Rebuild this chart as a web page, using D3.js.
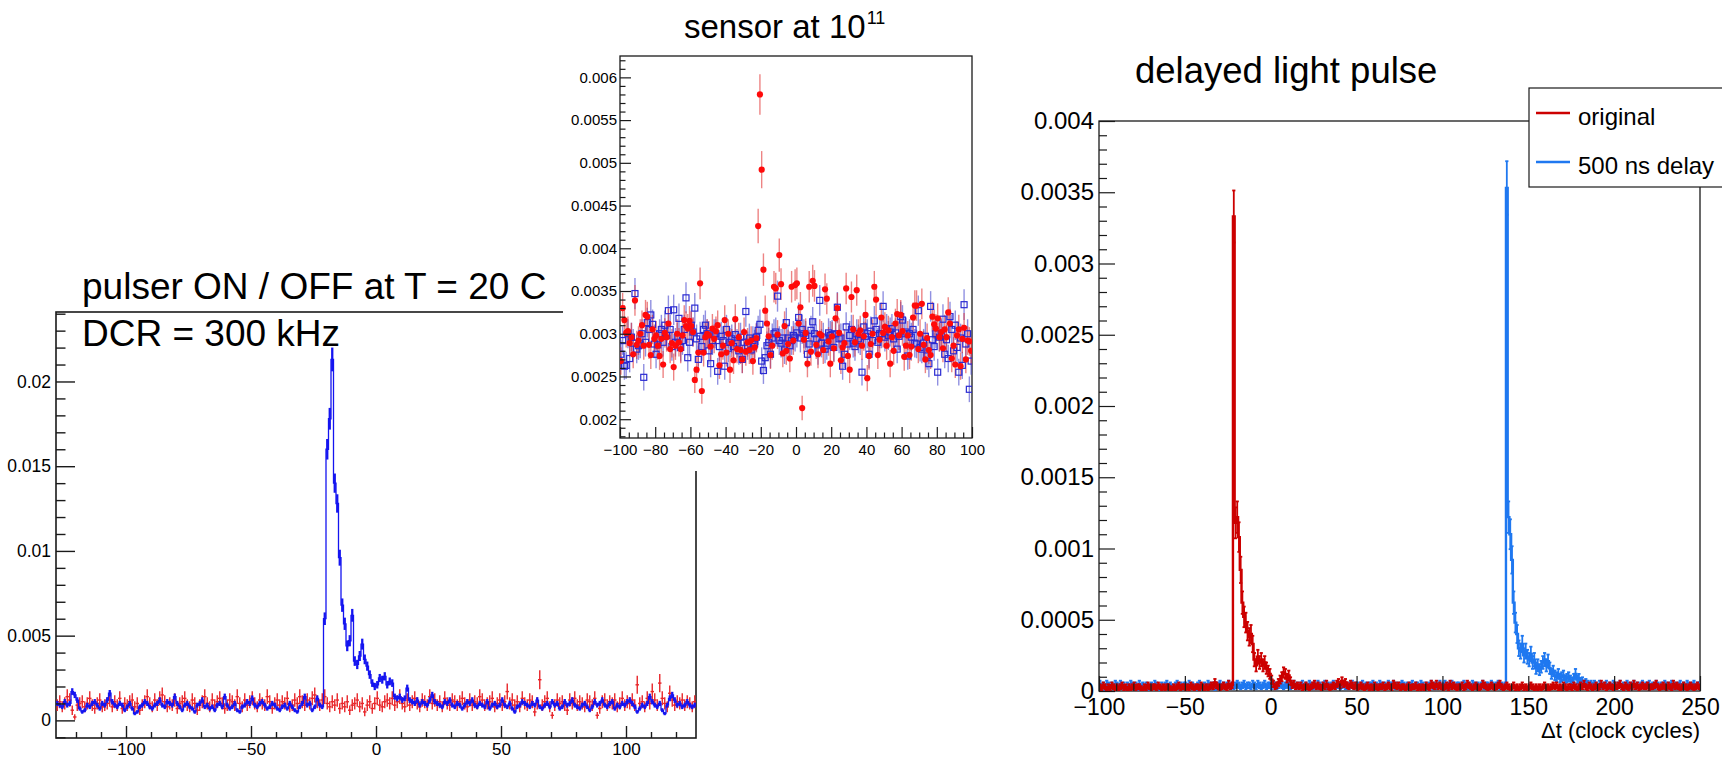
<!DOCTYPE html>
<html>
<head>
<meta charset="utf-8">
<script src="https://cdn.jsdelivr.net/npm/d3@7"></script>
<style>
  body { margin: 0; background: #fff; }
  svg { display: block; }
</style>
</head>
<body>
<svg id="fig" width="1722" height="759"></svg>
<script>
// ---------------- data ----------------
// pulser ON / OFF, one bin per clock cycle starting at -128, values in units of 1e-4
const pulserStart = -128;
const pulserUnit = 1e-4;
const pulserOn = [
  10, 9, 8, 11, 9, 10, 17, 15, 12, 7,
  5, 6, 9, 8, 10, 11, 9, 7, 10, 9,
  12, 16, 11, 9, 8, 10, 9, 6, 8, 10,
  7, 4, 5, 8, 9, 11, 10, 8, 7, 9,
  10, 12, 9, 8, 11, 10, 9, 14, 10, 8,
  6, 9, 10, 8, 7, 5, 9, 10, 12, 8,
  9, 7, 8, 6, 9, 10, 8, 14, 9, 7,
  8, 10, 6, 5, 8, 9, 11, 10, 13, 9,
  8, 10, 11, 9, 7, 8, 10, 9, 7, 6,
  8, 9, 7, 10, 8, 6, 5, 8, 10, 14,
  9, 10, 6, 8, 13, 9, 8,
  60, 160, 178, 213, 140, 128, 96, 68, 57, 44,
  47, 62, 35, 33, 38, 45, 36, 32, 27, 22,
  20, 21, 25, 24, 26, 21, 23, 22, 14, 13, 14, 12,
  13, 19, 12, 11, 10, 12, 9, 11, 10, 9,
  12, 15, 11, 10, 9, 8, 11, 10, 12, 9,
  8, 10, 9, 7, 9, 11, 10, 12, 9, 8,
  10, 9, 8, 11, 7, 9, 10, 8, 9, 12,
  9, 8, 10, 7, 5, 8, 9, 11, 10, 9,
  8, 10, 9, 12, 8, 7, 9, 10, 8, 11,
  9, 10, 7, 8, 11, 9, 10, 12, 9, 8,
  7, 9, 10, 8, 6, 8, 11, 9, 10, 12,
  9, 8, 10, 11, 7, 9, 8, 10, 9, 11,
  12, 10, 8, 5, 7, 9, 8, 10, 14, 11,
  9, 8, 10, 6, 4, 9, 13, 15, 12, 9,
  10, 8, 9, 11, 9, 8, 9
];
const pulserOff = [
  9, 11, 8, 10, 14, 12, 6, 2, 9, 10,
  11, 8, 10, 13, 9, 7, 10, 12, 8, 9,
  10, 12, 8, 11, 9, 13, 7, 10, 9, 11,
  12, 8, 10, 6, 9, 11, 14, 10, 8, 12,
  9, 13, 15, 11, 8, 10, 9, 12, 7, 10,
  11, 13, 9, 8, 12, 10, 6, 9, 11, 14,
  10, 8, 12, 9, 11, 13, 10, 7, 9, 12,
  11, 9, 14, 10, 8, 12, 9, 11, 13, 10,
  8, 12, 10, 9, 14, 11, 7, 10, 12, 9,
  11, 10, 13, 8, 9, 12, 10, 14, 11, 9,
  12, 10, 13, 15, 11, 9, 12, 14, 10, 8,
  11, 9, 12, 7, 10, 8, 11, 6, 9, 10,
  12, 8, 10, 5, 9, 11, 7, 10, 13, 9,
  8, 11, 12, 10, 13, 9, 11, 14, 10, 8,
  12, 9, 11, 13, 10, 8, 12, 11, 9, 14,
  10, 12, 9, 11, 8, 13, 10, 9, 12, 11,
  9, 11, 13, 10, 8, 12, 9, 11, 10, 14,
  12, 9, 10, 11, 13, 8, 10, 12, 9, 11,
  17, 10, 12, 9, 11, 8, 13, 10, 9, 12,
  11, 5, 10, 24, 9, 11, 13, 8, 3, 9,
  12, 10, 11, 9, 6, 12, 10, 13, 9, 11,
  10, 8, 12, 11, 9, 13, 3, 7, 11, 12,
  9, 11, 10, 12, 8, 10, 13, 9, 11, 10,
  12, 9, 21, 10, 11, 8, 13, 10, 17, 12,
  9, 22, 13, 10, 8, 16, 12, 9, 11, 10,
  12, 9, 11, 10, 8, 11
];

// sensor at 10^11 (inset), bins of 1 from -100 to 100, values in units of 1e-5
const sensorStart = -100;
const sensorUnit = 1e-5;
const sensorRed = [
  268, 330, 316, 301, 303, 289, 296, 276, 339, 287,
  292, 300, 310, 286, 322, 320, 287, 275, 305, 294,
  298, 286, 274, 294, 264, 301, 296, 312, 282, 289,
  261, 286, 300, 290, 282, 298, 316, 309, 306, 315,
  309, 302, 246, 258, 278, 359, 233, 278, 296, 300,
  298, 285, 306, 294, 303, 310, 263, 276, 286, 316,
  278, 300, 258, 289, 269, 317, 282, 296, 281, 270,
  302, 279, 290, 281, 292, 268, 284, 295, 426, 580,
  492, 375, 327, 312, 297, 275, 286, 355, 353, 299,
  392, 358, 277, 309, 280, 288, 271, 355, 292, 357,
  359, 312, 331, 213, 293, 301, 265, 355, 279, 362,
  356, 287, 276, 300, 298, 281, 352, 341, 291, 265,
  297, 283, 318, 330, 301, 269, 284, 289, 353, 274,
  258, 343, 305, 290, 351, 300, 304, 286, 297, 322,
  248, 274, 288, 300, 355, 340, 275, 293, 319, 301,
  308, 286, 304, 265, 296, 280, 312, 323, 298, 322,
  303, 273, 286, 298, 275, 285, 319, 333, 333, 282,
  300, 335, 287, 270, 295, 281, 275, 320, 311, 306,
  318, 296, 302, 283, 305, 296, 325, 312, 271, 286,
  264, 298, 305, 262, 294, 307, 270, 292, 291, 280
];
const sensorBlue = [
  276, 292, 262, 263, 300, 271, 296, 289, 347, 282,
  286, 288, 300, 249, 290, 313, 305, 322, 311, 288,
  276, 287, 300, 305, 290, 310, 298, 327, 305, 285,
  328, 290, 296, 318, 284, 292, 305, 342, 272, 290,
  310, 302, 330, 294, 270, 297, 285, 305, 310, 300,
  280, 265, 292, 300, 300, 256, 285, 297, 292, 262,
  305, 283, 290, 294, 285, 299, 289, 280, 296, 270,
  290, 326, 286, 295, 281, 292, 288, 296, 304, 311,
  268, 257, 272, 286, 290, 276, 295, 300, 302, 344,
  292, 289, 295, 281, 313, 295, 286, 292, 298, 296,
  301, 319, 295, 305, 300, 298, 276, 288, 304, 314,
  300, 294, 280, 339, 289, 296, 282, 286, 301, 298,
  299, 284, 300, 331, 294, 295, 262, 276, 308, 288,
  298, 305, 289, 285, 300, 294, 292, 255, 308, 297,
  300, 276, 303, 292, 315, 305, 290, 300, 300, 332,
  296, 306, 298, 302, 306, 294, 301, 282, 297, 320,
  316, 300, 302, 274, 300, 296, 305, 289, 288, 327,
  284, 282, 289, 297, 274, 265, 332, 293, 285, 300,
  255, 296, 300, 317, 276, 293, 271, 320, 305, 280,
  310, 284, 255, 295, 263, 334, 288, 300, 235, 268
];

// delayed light pulse (right), bins of 1 clock cycle from -100 to 250, units of 1e-5
const delayStart = -100;
const delayUnit = 1e-5;
const delayOriginal = [
  3, 2, 4, 3, 1, 3, 2, 4, 3, 2,
  3, 2, 3, 4, 2, 3, 1, 3, 2, 3,
  4, 2, 3, 3, 2, 1, 3, 2, 4, 3,
  2, 3, 3, 2, 4, 3, 2, 3, 2, 3,
  3, 2, 1, 3, 2, 3, 4, 2, 3, 3,
  2, 3, 2, 4, 3, 2, 3, 3, 2, 4,
  3, 2, 3, 2, 3, 4, 3, 6, 4, 3,
  2, 3, 4, 3, 2, 5, 3, 4,
  333, 118, 122, 108, 85, 62, 52, 48, 42, 38,
  40, 33, 22, 18, 24, 20, 22, 18, 20, 16,
  14, 12, 8, 5, 3, 4, 6, 8, 10, 13,
  12, 9, 11, 7, 4, 5, 3, 4, 3, 4,
  2, 3, 4, 3, 2, 3, 4, 5, 3, 4,
  3, 2, 4, 3, 5, 3, 2, 3, 4, 3,
  5, 6, 4, 7, 5, 6, 4, 3, 5, 4,
  3, 4, 2, 3, 4, 3, 2, 3, 4, 2,
  3, 2, 4, 3, 2, 3, 3, 4, 2, 3,
  4, 3, 2, 5, 4, 3, 4, 2, 3, 3,
  2, 3, 4, 2, 3, 3, 4, 2, 3, 2,
  3, 2, 4, 3, 2, 5, 4, 3, 5, 3,
  4, 3, 2, 3, 4, 2, 5, 3, 4, 3,
  2, 3, 3, 4, 2, 3, 5, 4, 3, 2,
  3, 4, 3, 2, 3, 5, 4, 3, 2, 3,
  4, 3, 2, 3, 4, 5, 3, 2, 3, 4,
  3, 2, 3, 4, 2, 3, 2, 3, 4, 2,
  3, 2, 3, 4, 3, 2, 3, 2, 3, 2,
  3, 4, 2, 3, 2, 3, 4, 3, 4, 2,
  3, 2, 4, 3, 2, 3, 3, 2, 4, 3,
  2, 3, 4, 3, 5, 3, 2, 4, 3, 2,
  3, 4, 2, 3, 5, 3, 4, 2, 3, 4,
  3, 2, 4, 3, 4, 5, 3, 2, 4, 3,
  2, 4, 3, 5, 3, 4, 2, 3, 4, 3,
  3, 4, 2, 3, 3, 4, 5, 3, 2, 3,
  4, 3, 2, 4, 3, 2, 5, 3, 4, 3,
  2, 3, 4, 3, 2, 3, 4, 3, 2, 3, 4, 3
];
const delayShifted = [
  5, 3, 4, 2, 5, 4, 3, 4, 3, 5,
  4, 3, 5, 3, 4, 2, 4, 3, 5, 4,
  3, 4, 2, 5, 3, 4, 3, 4, 2, 3,
  4, 3, 5, 4, 3, 2, 4, 3, 4, 5,
  3, 4, 3, 2, 4, 5, 3, 4, 3, 4,
  4, 3, 5, 3, 4, 3, 2, 4, 5, 3,
  3, 4, 3, 5, 4, 3, 4, 2, 3, 4,
  5, 3, 4, 3, 4, 5, 3, 4, 3, 4,
  5, 4, 3, 4, 5, 3, 4, 4, 3, 5,
  4, 3, 5, 4, 3, 4, 5, 3, 4, 4,
  3, 5, 4, 3, 4, 5, 4, 3, 4, 5,
  4, 3, 4, 5, 3, 4, 3, 4, 5, 3,
  4, 3, 5, 4, 3, 4, 3, 5, 4, 3,
  4, 5, 3, 4, 3, 4, 5, 3, 4, 4,
  3, 4, 5, 3, 4, 3, 4, 5, 3, 4,
  4, 3, 4, 5, 3, 4, 3, 4, 4, 5,
  3, 4, 3, 5, 4, 3, 4, 3, 5, 4,
  4, 5, 3, 4, 3, 4, 5, 4, 3, 4,
  3, 4, 5, 3, 4, 4, 3, 5, 4, 3,
  4, 3, 4, 5, 3, 4, 3, 4, 5, 3,
  4, 5, 3, 4, 3, 5, 4, 3, 4, 4,
  3, 4, 5, 4, 3, 4, 3, 5, 4, 3,
  4, 3, 4, 5, 3, 4, 4, 3, 5, 4,
  3, 4, 5, 3, 4, 3, 4,
  353, 122, 110, 92, 62, 48, 40, 30, 28, 33,
  25, 28, 24, 22, 26, 20, 22, 16, 18, 15,
  17, 20, 22, 18, 21, 16, 12, 14, 11, 10,
  12, 9, 10, 11, 8, 9, 10, 8, 7, 9,
  12, 8, 9, 6, 7, 5, 6, 5, 4, 5,
  4, 5, 4, 3, 5, 4, 3, 4, 5, 3,
  4, 3, 5, 4, 3, 4, 5, 3, 4, 3,
  5, 4, 3, 4, 5, 3, 4, 3, 4, 5,
  3, 4, 4, 5, 3, 4, 3, 5, 4, 3,
  4, 3, 5, 4, 3, 4, 5, 3, 4, 3,
  4, 5, 3, 4, 3, 5, 4, 3, 4, 5, 3, 4, 4
];

// axis ticks and labels
const leftYTicks = [0, 0.005, 0.01, 0.015, 0.02];
const leftXTicks = [-100, -50, 0, 50, 100];
const insetYTicks = [0.002, 0.0025, 0.003, 0.0035, 0.004, 0.0045, 0.005, 0.0055, 0.006];
const insetXTicks = [-100, -80, -60, -40, -20, 0, 20, 40, 60, 80, 100];
const rightYTicks = [0, 0.0005, 0.001, 0.0015, 0.002, 0.0025, 0.003, 0.0035, 0.004];
const rightXTicks = [-100, -50, 0, 50, 100, 150, 200, 250];
const legendLabels = ["original", "500 ns delay"];

// ---------------- drawing ----------------
const FONT = '"Liberation Sans", Arial, Helvetica, sans-serif';
const INK = "#1a1a1a";
const svg = d3.select("#fig").attr("font-family", FONT);
const defs = svg.append("defs");

function clipFor(id, x, y) {
  defs.append("clipPath").attr("id", id).append("rect")
    .attr("x", x.range()[0]).attr("y", y.range()[1])
    .attr("width", x.range()[1] - x.range()[0])
    .attr("height", y.range()[0] - y.range()[1]);
  return `url(#${id})`;
}

function frame(g, x, y, lw) {
  g.append("rect")
    .attr("x", x.range()[0]).attr("y", y.range()[1])
    .attr("width", x.range()[1] - x.range()[0])
    .attr("height", y.range()[0] - y.range()[1])
    .attr("fill", "none").attr("stroke", INK).attr("stroke-width", lw);
}

// ROOT-style axes: ticks inside the frame, minor ticks half length
function axes(g, x, y, o) {
  const fmt = d3.format("~g");
  const left = x.range()[0], bottom = y.range()[0];
  const notMajor = (majors) => (v) => !majors.some(m => Math.abs(m - v) < 1e-9);

  g.append("g").attr("transform", `translate(${left},0)`)
    .attr("color", INK).attr("stroke-width", o.lw)
    .call(d3.axisLeft(y).tickValues(o.yMinor.filter(notMajor(o.yMajor)))
      .tickSize(-o.yTick / 2).tickFormat(""))
    .call(s => s.select(".domain").remove());
  g.append("g").attr("transform", `translate(${left},0)`)
    .attr("color", INK).attr("stroke-width", o.lw)
    .call(d3.axisLeft(y).tickValues(o.yMajor).tickSize(-o.yTick)
      .tickPadding(o.yPad).tickFormat(fmt))
    .call(s => s.select(".domain").remove())
    .attr("font-size", o.yfs || o.fs).attr("font-family", FONT)
    .call(s => s.selectAll("text").attr("fill", "#000"));

  g.append("g").attr("transform", `translate(0,${bottom})`)
    .attr("color", INK).attr("stroke-width", o.lw)
    .call(d3.axisBottom(x).tickValues(o.xMinor.filter(notMajor(o.xMajor)))
      .tickSize(-o.xTick / 2).tickFormat(""))
    .call(s => s.select(".domain").remove());
  g.append("g").attr("transform", `translate(0,${bottom})`)
    .attr("color", INK).attr("stroke-width", o.lw)
    .call(d3.axisBottom(x).tickValues(o.xMajor).tickSize(-o.xTick)
      .tickPadding(o.xPad).tickFormat(fmt))
    .call(s => s.select(".domain").remove())
    .attr("font-size", o.fs).attr("font-family", FONT)
    .call(s => s.selectAll("text").attr("fill", "#000"));
}

function bins(start, vals, unit) {
  return vals.map((v, i) => ({ x0: start + i, x1: start + i + 1, v: v * unit }));
}

function stepLine(x, y, data) {
  const pts = data.map(d => [d.x0, d.v]);
  pts.push([data[data.length - 1].x1, data[data.length - 1].v]);
  return d3.line().x(d => x(d[0])).y(d => y(d[1])).curve(d3.curveStepAfter)(pts);
}

const mid = d => (d.x0 + d.x1) / 2;

// ===== left panel: pulser ON / OFF =====
const xL = d3.scaleLinear().domain([-128, 128]).range([56, 696]);
const yL = d3.scaleLinear().domain([-0.00104, 0.0241]).range([738, 312]);
const gL = svg.append("g");
frame(gL, xL, yL, 1.6);

const onBins = bins(pulserStart, pulserOn, pulserUnit);
const offBins = bins(pulserStart, pulserOff, pulserUnit);
const dL = gL.append("g").attr("clip-path", clipFor("clipL", xL, yL));

// pulser OFF: red crosses
const offErr = d => 0.0115 * Math.sqrt(d.v);
dL.append("g").attr("stroke", "#e8262a").attr("stroke-width", 1.4)
  .selectAll("g").data(offBins).join("g")
  .call(s => s.append("line")
    .attr("x1", d => xL(mid(d))).attr("x2", d => xL(mid(d)))
    .attr("y1", d => yL(d.v - offErr(d))).attr("y2", d => yL(d.v + offErr(d))))
  .call(s => s.append("line")
    .attr("x1", d => xL(d.x0) - 0.5).attr("x2", d => xL(d.x1) + 0.5)
    .attr("y1", d => yL(d.v)).attr("y2", d => yL(d.v)));

// pulser ON: blue histogram with error bars
const onErr = d => 0.0048 * Math.sqrt(d.v);
dL.append("path").attr("d", stepLine(xL, yL, onBins))
  .attr("fill", "none").attr("stroke", "#1414f0").attr("stroke-width", 1.3);
dL.append("g").attr("stroke", "#1414f0").attr("stroke-width", 2.3)
  .selectAll("line").data(onBins).join("line")
  .attr("x1", d => xL(mid(d))).attr("x2", d => xL(mid(d)))
  .attr("y1", d => yL(d.v - onErr(d))).attr("y2", d => yL(d.v + onErr(d)));

axes(gL, xL, yL, {
  yMajor: leftYTicks, yMinor: d3.range(-0.001, 0.02401, 0.001),
  xMajor: leftXTicks, xMinor: d3.range(-120, 121, 10),
  yTick: 19, xTick: 12, yPad: 5, xPad: 5, fs: 17, yfs: 17.5, lw: 1.4
});

gL.append("text").attr("x", 82).attr("y", 299).attr("font-size", 37)
  .text("pulser ON / OFF at T = 20 C");
gL.append("text").attr("x", 82).attr("y", 346).attr("font-size", 37)
  .text("DCR = 300 kHz");

// ===== inset: sensor at 10^11 (pasted over the left panel) =====
svg.append("rect").attr("x", 563).attr("y", 0).attr("width", 447).attr("height", 471)
  .attr("fill", "#fff");

const xI = d3.scaleLinear().domain([-100, 100]).range([620, 972]);
const yI = d3.scaleLinear().domain([0.00178, 0.00625]).range([438, 56]);
const gI = svg.append("g");
frame(gI, xI, yI, 1.3);

const redI = bins(sensorStart, sensorRed, sensorUnit);
const blueI = bins(sensorStart, sensorBlue, sensorUnit);
const errI = d => 0.0031 * Math.sqrt(d.v);
const dI = gI.append("g").attr("clip-path", clipFor("clipI", xI, yI));

dI.append("g").attr("stroke", "rgba(70,70,205,0.6)").attr("stroke-width", 1.4)
  .selectAll("line").data(blueI).join("line")
  .attr("x1", d => xI(mid(d))).attr("x2", d => xI(mid(d)))
  .attr("y1", d => yI(d.v - errI(d))).attr("y2", d => yI(d.v + errI(d)));
dI.append("g").attr("stroke", "rgba(225,50,50,0.6)").attr("stroke-width", 1.4)
  .selectAll("line").data(redI).join("line")
  .attr("x1", d => xI(mid(d))).attr("x2", d => xI(mid(d)))
  .attr("y1", d => yI(d.v - errI(d))).attr("y2", d => yI(d.v + errI(d)));
dI.append("g").attr("fill", "none").attr("stroke", "#2a2ad2").attr("stroke-width", 1.2)
  .selectAll("rect").data(blueI).join("rect")
  .attr("x", d => xI(mid(d)) - 3).attr("y", d => yI(d.v) - 3)
  .attr("width", 6).attr("height", 6);
dI.append("g").attr("fill", "#ff0a0a")
  .selectAll("circle").data(redI).join("circle")
  .attr("cx", d => xI(mid(d))).attr("cy", d => yI(d.v)).attr("r", 3.1);

axes(gI, xI, yI, {
  yMajor: insetYTicks, yMinor: d3.range(0.0018, 0.00625, 0.0001),
  xMajor: insetXTicks, xMinor: d3.range(-100, 101, 5),
  yTick: 11, xTick: 11, yPad: 3, xPad: 6, fs: 15, lw: 1.2
});

const tI = gI.append("text").attr("x", 684).attr("y", 38).attr("font-size", 33);
tI.append("tspan").text("sensor at 10");
tI.append("tspan").attr("font-size", 18).attr("dx", 1).attr("dy", -14).text("11");

// ===== right panel: delayed light pulse =====
const xR = d3.scaleLinear().domain([-100, 250]).range([1099, 1700]);
const yR = d3.scaleLinear().domain([0, 0.004]).range([691, 121]);
const gR = svg.append("g");
frame(gR, xR, yR, 1.3);

const dR = gR.append("g").attr("clip-path", clipFor("clipR", xR, yR));
const errR = d => Math.sqrt(d.v * delayUnit);
const series = [
  { name: legendLabels[1], color: "#1f78f0", data: bins(delayStart, delayShifted, delayUnit) },
  { name: legendLabels[0], color: "#cc0000", data: bins(delayStart, delayOriginal, delayUnit) }
];
series.forEach(s => {
  dR.append("path").attr("d", stepLine(xR, yR, s.data))
    .attr("fill", "none").attr("stroke", s.color).attr("stroke-width", 2.4);
  const eb = dR.append("g").attr("stroke", s.color).attr("stroke-width", 1.8)
    .selectAll("g").data(s.data).join("g");
  eb.append("line")
    .attr("x1", d => xR(mid(d))).attr("x2", d => xR(mid(d)))
    .attr("y1", d => yR(d.v - errR(d))).attr("y2", d => yR(d.v + errR(d)));
  [-1, 1].forEach(sg => eb.append("line")
    .attr("x1", d => xR(mid(d)) - 1.6).attr("x2", d => xR(mid(d)) + 1.6)
    .attr("y1", d => yR(d.v + sg * errR(d))).attr("y2", d => yR(d.v + sg * errR(d))));
});

axes(gR, xR, yR, {
  yMajor: rightYTicks, yMinor: d3.range(0, 0.00401, 0.0001),
  xMajor: rightXTicks, xMinor: d3.range(-100, 251, 10),
  yTick: 16, xTick: 15, yPad: 5, xPad: 8, fs: 23, yfs: 24, lw: 1.2
});

gR.append("text").attr("x", 1700).attr("y", 738).attr("font-size", 22)
  .attr("text-anchor", "end").text("\u0394t (clock cycles)");
gR.append("text").attr("x", 1135).attr("y", 83).attr("font-size", 36.5)
  .text("delayed light pulse");

// legend
const lg = gR.append("g").attr("transform", "translate(1529,88)");
lg.append("rect").attr("width", 210).attr("height", 99)
  .attr("fill", "#fff").attr("stroke", INK).attr("stroke-width", 1.2);
[series[1], series[0]].forEach((s, i) => {
  const yy = 25 + i * 49;
  lg.append("line").attr("x1", 7).attr("x2", 41).attr("y1", yy).attr("y2", yy)
    .attr("stroke", s.color).attr("stroke-width", 2.4);
  lg.append("text").attr("x", 49).attr("y", yy + 12).attr("font-size", 24).text(s.name);
});
</script>
</body>
</html>
